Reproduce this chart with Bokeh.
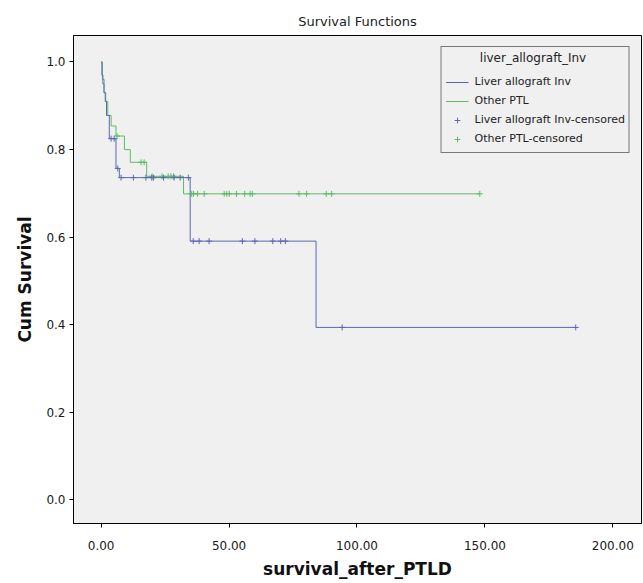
import numpy as np
from bokeh.plotting import figure
from bokeh.models import (Range1d, FixedTicker, NumeralTickFormatter, Legend, LegendItem)
from bokeh.embed import file_html
from bokeh.resources import INLINE

# ---- data ----
# Liver allograft Inv (event times and survival after each event)
liver_times = [0.0, 0.3, 0.7, 1.1, 1.6, 2.1, 3.2, 5.8, 7.1, 34.8, 84.0]
liver_surv = [1.0, 0.97, 0.95, 0.93, 0.91, 0.878, 0.825, 0.757, 0.736, 0.591, 0.394]
liver_end = 185.5
liver_censored = [3.9, 5.1, 6.5, 7.8, 12.6, 17.5, 19.8, 20.5, 24.4, 28.5, 30.9, 34.1,
                  36.0, 38.3, 42.2, 55.2, 60.1, 67.1, 70.2, 72.0, 94.2, 185.5]

# Other PTL
other_times = [0.0, 0.5, 1.2, 1.8, 2.6, 3.9, 5.8, 9.1, 11.4, 17.8, 32.2]
other_surv = [1.0, 0.96, 0.93, 0.91, 0.878, 0.854, 0.831, 0.80, 0.771, 0.739, 0.699]
other_end = 148.0
other_censored = [6.2, 15.6, 16.8, 19.9, 23.8, 26.2, 27.3, 28.3, 35.4, 36.1, 37.7, 40.3,
                  48.1, 49.1, 50.1, 52.9, 56.1, 58.2, 59.1, 77.3, 80.3, 88.0, 90.1, 148.0]

x_ticks = [0, 50, 100, 150, 200]
y_ticks = [0.0, 0.2, 0.4, 0.6, 0.8, 1.0]

BLUE = "#5a67b5"
GREEN = "#5cbd63"
FONT = "DejaVu Sans"


def step_xy(times, surv, end):
    return list(times) + [end], list(surv) + [surv[-1]]


def censor_y(times, surv, cens):
    idx = np.searchsorted(np.asarray(times), np.asarray(cens), side="right") - 1
    return [surv[i] for i in idx]


p = figure(width=642, height=582, output_backend="svg", toolbar_location=None,
           x_range=Range1d(-10.8, 211.2), y_range=Range1d(-0.0537, 1.0605),
           min_border_left=73, min_border_right=1, min_border_top=35, min_border_bottom=59)

p.background_fill_color = "#f0f0f0"
p.border_fill_color = "white"
p.outline_line_color = "black"
p.outline_line_width = 1
p.grid.visible = False

p.title.text = "Survival Functions"
p.title.align = "center"
p.title.text_font = FONT
p.title.text_font_size = "13px"
p.title.text_font_style = "normal"
p.title.text_color = "#222222"
p.title.standoff = 14

p.xaxis.ticker = FixedTicker(ticks=x_ticks)
p.yaxis.ticker = FixedTicker(ticks=y_ticks)
p.xaxis.formatter = NumeralTickFormatter(format="0.00")
p.yaxis.formatter = NumeralTickFormatter(format="0.0")
p.xaxis.axis_label = "survival_after_PTLD"
p.yaxis.axis_label = "Cum Survival"
for ax in (p.xaxis, p.yaxis):
    ax.axis_label_text_font = FONT
    ax.axis_label_text_font_size = "17px"
    ax.axis_label_text_font_style = "bold"
    ax.axis_label_text_color = "#111111"
    ax.major_label_text_font = FONT
    ax.major_label_text_font_size = "12px"
    ax.major_label_text_color = "#1a1a1a"
    ax.major_tick_in = 0
    ax.major_tick_out = 4
    ax.minor_tick_in = 0
    ax.minor_tick_out = 0
    ax.axis_line_color = "black"
    ax.major_tick_line_color = "black"
p.xaxis.major_label_standoff = 13
p.xaxis.axis_label_standoff = 6
p.yaxis.major_label_standoff = 4
p.yaxis.axis_label_standoff = 8

lx, ly = step_xy(liver_times, liver_surv, liver_end)
ox, oy = step_xy(other_times, other_surv, other_end)

r_other = p.step(ox, oy, mode="after", line_color=GREEN, line_width=1)
r_liver = p.step(lx, ly, mode="after", line_color=BLUE, line_width=1)
r_other_c = p.scatter(other_censored, censor_y(other_times, other_surv, other_censored),
                      marker="cross", size=6, line_color=GREEN, line_width=1)
r_liver_c = p.scatter(liver_censored, censor_y(liver_times, liver_surv, liver_censored),
                      marker="cross", size=6, line_color=BLUE, line_width=1)

legend = Legend(items=[
    LegendItem(label="Liver allograft Inv", renderers=[r_liver]),
    LegendItem(label="Other PTL", renderers=[r_other]),
    LegendItem(label="Liver allograft Inv-censored", renderers=[r_liver_c]),
    LegendItem(label="Other PTL-censored", renderers=[r_other_c]),
], location="top_right")
legend.title = "\u00a0" * 9 + "liver_allograft_Inv"
legend.title_text_font = FONT
legend.title_text_font_size = "12px"
legend.title_text_font_style = "normal"
legend.title_text_color = "#222222"
legend.title_standoff = 7
legend.label_text_font = FONT
legend.label_text_font_size = "11px"
legend.label_text_color = "#222222"
legend.label_height = 19
legend.glyph_height = 14
legend.glyph_width = 23
legend.label_standoff = 6
legend.spacing = 0
legend.padding = 4
legend.margin = 11
legend.border_line_color = "black"
legend.border_line_width = 1
legend.background_fill_color = "#f0f0f0"
legend.background_fill_alpha = 1.0
p.add_layout(legend)

open("out.html", "w").write(file_html(p, INLINE))
